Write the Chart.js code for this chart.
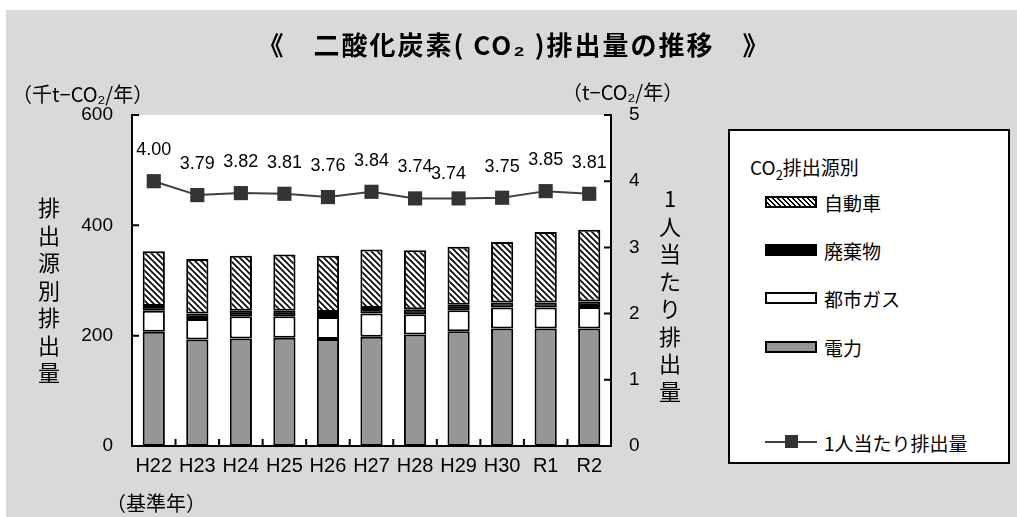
<!DOCTYPE html>
<html lang="ja">
<head>
<meta charset="UTF-8">
<title>二酸化炭素(CO2)排出量の推移</title>
<script src="https://cdn.jsdelivr.net/npm/chart.js"></script>
<style>
  body { margin: 0; width: 1017px; height: 517px; overflow: hidden; position: relative; background: #fff;
         font-family: "Noto Sans CJK JP", sans-serif; color: #000; }
  #bg { position: absolute; left: 6px; top: 10px; right: 0; bottom: 0; background: #d9d9d9; }
  #chart { position: absolute; left: 0; top: 0; }
  .txt { position: absolute; white-space: nowrap; line-height: 1; }
  .vert { position: absolute; font-size: 22px; line-height: 27.5px; text-align: center; width: 30px; }
  #title { left: 0; width: 1028px; top: 31px; text-align: center; font-size: 26px; font-weight: bold; letter-spacing: 2px; }
  #legend { position: absolute; left: 728px; top: 129px; width: 278px; height: 331px; background: #fff; border: 2px solid #000; }
  #legend .lt { position: absolute; left: 20px; top: 22px; font-size: 19px; }
  #legend .item { position: absolute; left: 35px; height: 24px; display: flex; align-items: center; font-size: 19px; }
  #legend .sw { width: 48px; height: 8px; border: 2px solid #000; margin-right: 7px; }
  #legend .ln { width: 52px; height: 2px; background: #404040; margin-right: 7px; position: relative; }
  #legend .ln::after { content: ""; position: absolute; left: 20px; top: -6px; width: 13px; height: 13px; background: #333; }
</style>
</head>
<body>
<div id="bg"></div>
<canvas id="chart" width="1017" height="517"></canvas>
<div id="title" class="txt">《　二酸化炭素( CO₂ )排出量の推移　》</div>
<div class="txt" style="left:12px; top:84px; font-size:20px;">（千t−CO₂/年）</div>
<div class="txt" style="left:562px; top:82px; font-size:20px;">（t−CO₂/年）</div>
<div class="txt" style="left:106px; top:493px; font-size:20px;">（基準年）</div>
<div id="yTitle" class="vert" style="left:34px; top:193px;"></div>
<div id="y1Title" class="vert" style="left:655px; top:184px;"></div>
<div id="legend"></div>

<script>
  // 年度
  const years = ['H22', 'H23', 'H24', 'H25', 'H26', 'H27', 'H28', 'H29', 'H30', 'R1', 'R2'];
  // 排出源別排出量 (千t-CO2/年)
  const power   = [207, 193, 195, 196, 194, 198, 202, 208, 213, 213, 213];
  const cityGas = [38, 37, 40, 39, 40, 42, 37, 38, 38, 38, 39];
  const waste   = [9, 10, 10, 10, 9, 10, 9, 10, 9, 9, 10];
  const cars    = [99, 99, 100, 102, 102, 106, 107, 105, 110, 128, 130];
  // 1人当たり排出量 (t-CO2/年)
  const perCapita = [4.00, 3.79, 3.82, 3.81, 3.76, 3.84, 3.74, 3.74, 3.75, 3.85, 3.81];

  const yTicks = [0, 200, 400, 600];
  const y1Ticks = [0, 1, 2, 3, 4, 5];

  const numFont = '"Liberation Sans", "Noto Sans CJK JP", sans-serif';

  // 斜線パターン (自動車)
  function makeHatch() {
    const c = document.createElement('canvas');
    c.width = 6; c.height = 6;
    const g = c.getContext('2d');
    g.fillStyle = '#fff';
    g.fillRect(0, 0, 6, 6);
    g.strokeStyle = '#000';
    g.lineWidth = 1.6;
    g.beginPath();
    g.moveTo(0, 0); g.lineTo(6, 6);
    g.moveTo(-1, 5); g.lineTo(1, 7);
    g.moveTo(5, -1); g.lineTo(7, 1);
    g.stroke();
    return g.createPattern(c, 'repeat');
  }
  const hatch = makeHatch();

  // 軸タイトル (縦書き)
  document.getElementById('yTitle').innerHTML = '排出源別排出量'.split('').join('<br>');
  document.getElementById('y1Title').innerHTML = '1人当たり排出量'.split('').join('<br>');

  // 凡例
  const legendItems = [
    { label: '自動車', css: 'background: repeating-linear-gradient(45deg, #fff 0 2px, #000 2px 3.5px);' },
    { label: '廃棄物', css: 'background: #000;' },
    { label: '都市ガス', css: 'background: #fff;' },
    { label: '電力', css: 'background: #969696;' }
  ];
  const legendTop = [59, 107, 155, 204];
  let html = '<div class="lt">CO<sub style="font-size:13px;">2</sub>排出源別</div>';
  legendItems.forEach((it, i) => {
    html += '<div class="item" style="top:' + legendTop[i] + 'px;"><span class="sw" style="' + it.css + '"></span>' + it.label + '</div>';
  });
  html += '<div class="item" style="top:299px;"><span class="ln"></span>1人当たり排出量</div>';
  document.getElementById('legend').innerHTML = html;

  // プロットエリア背景・内向き目盛・データラベル
  const chartDecor = {
    id: 'chartDecor',
    beforeDraw(chart) {
      const { ctx, chartArea: a } = chart;
      ctx.save();
      ctx.fillStyle = '#fff';
      ctx.fillRect(a.left, a.top, a.right - a.left, a.bottom - a.top);
      ctx.restore();
    },
    afterDraw(chart) {
      const { ctx, chartArea: a, scales } = chart;
      ctx.save();
      ctx.strokeStyle = '#000';
      ctx.lineWidth = 2;
      ctx.beginPath();
      yTicks.forEach(v => {
        const y = scales.y.getPixelForValue(v);
        ctx.moveTo(a.left, y); ctx.lineTo(a.left + 7, y);
      });
      y1Ticks.forEach(v => {
        const y = scales.y1.getPixelForValue(v);
        ctx.moveTo(a.right, y); ctx.lineTo(a.right - 7, y);
      });
      const half = (scales.x.getPixelForValue(1) - scales.x.getPixelForValue(0)) / 2;
      for (let i = 0; i < years.length - 1; i++) {
        const x = scales.x.getPixelForValue(i) + half;
        ctx.moveTo(x, a.bottom); ctx.lineTo(x, a.bottom - 7);
      }
      ctx.stroke();

      // 1人当たり排出量のラベル
      const meta = chart.getDatasetMeta(0);
      ctx.fillStyle = '#000';
      ctx.font = '18px ' + numFont;
      ctx.textAlign = 'center';
      ctx.textBaseline = 'middle';
      meta.data.forEach((pt, i) => {
        let dx = 0, dy = 0;
        if (i === 7) { dx = -10; dy = 7; }
        ctx.fillText(perCapita[i].toFixed(2), pt.x + dx, pt.y - 31 + dy);
      });
      ctx.restore();
    }
  };

  const ctx = document.getElementById('chart').getContext('2d');
  new Chart(ctx, {
    data: {
      labels: years,
      datasets: [
        {
          type: 'line', label: '1人当たり排出量', data: perCapita, yAxisID: 'y1', order: 0,
          borderColor: '#404040', borderWidth: 2, pointStyle: 'rect', pointRadius: 10,
          pointBackgroundColor: '#333', pointBorderColor: '#333', pointBorderWidth: 0
        },
        { type: 'bar', label: '電力', data: power, backgroundColor: '#969696', order: 1 },
        { type: 'bar', label: '都市ガス', data: cityGas, backgroundColor: '#fff', order: 1 },
        { type: 'bar', label: '廃棄物', data: waste, backgroundColor: '#000', order: 1 },
        { type: 'bar', label: '自動車', data: cars, backgroundColor: hatch, order: 1 }
      ]
    },
    options: {
      responsive: false,
      animation: false,
      devicePixelRatio: 1,
      layout: { padding: { left: 72, right: 346, top: 115, bottom: 31 } },
      datasets: {
        bar: { borderColor: '#000', borderWidth: 2, borderSkipped: false, barPercentage: 0.51, categoryPercentage: 1 }
      },
      plugins: { legend: { display: false }, tooltip: { enabled: false } },
      scales: {
        x: {
          stacked: true, offset: true,
          grid: { display: false, drawTicks: false },
          border: { display: true, color: '#000', width: 2 },
          ticks: { color: '#000', padding: 8, font: { size: 20, family: numFont }, maxRotation: 0 },
          afterFit(s) { s.height = 40; }
        },
        y: {
          stacked: true, position: 'left', min: 0, max: 600,
          grid: { display: false, drawTicks: false },
          border: { display: true, color: '#000', width: 2 },
          ticks: { stepSize: 200, color: '#000', padding: 19, font: { size: 19, family: numFont } },
          afterFit(s) { s.width = 60; }
        },
        y1: {
          position: 'right', min: 0, max: 5,
          grid: { display: false, drawTicks: false },
          border: { display: true, color: '#000', width: 2 },
          ticks: { stepSize: 1, color: '#000', padding: 18, font: { size: 19, family: numFont } },
          afterFit(s) { s.width = 60; }
        }
      }
    },
    plugins: [chartDecor]
  });
</script>
</body>
</html>
